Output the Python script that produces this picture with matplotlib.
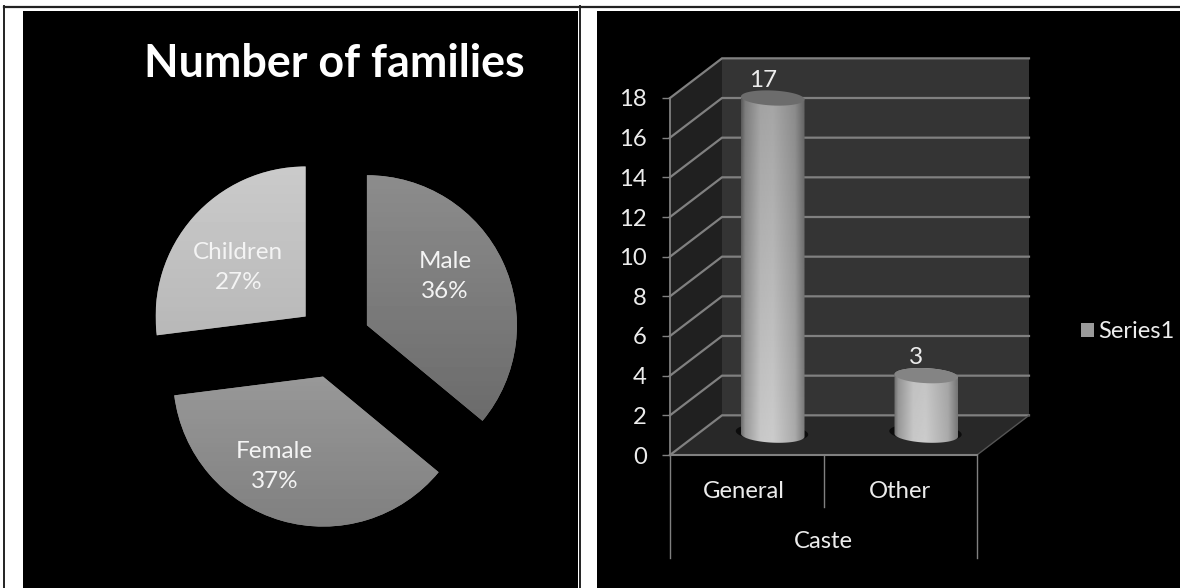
import numpy as np
import matplotlib
matplotlib.use('Agg')
import matplotlib.pyplot as plt
from matplotlib.patches import Patch, Polygon
from matplotlib.path import Path
from matplotlib.patches import PathPatch
from matplotlib.transforms import ScaledTranslation

plt.rcParams['font.family'] = ['Lato', 'DejaVu Sans']

# data
pie_labels = ['Male', 'Female', 'Children']
pie_values = [36, 37, 27]
pie_top = [140, 176, 202]       # gris em cima/embaixo de cada fatia
pie_bottom = [100, 128, 170]

castes = ['General', 'Other']
caste_values = [17, 3]
group_label = 'Caste'
series_name = 'Series1'
y_ticks = [0, 2, 4, 6, 8, 10, 12, 14, 16, 18]

W = 1180
H = 588
TXT = '#ececec'
LINE = '#808080'


def ax_px(fig, x0, y0, x1, y1):
    return fig.add_axes([x0 / W, 1 - y1 / H, (x1 - x0) / W, (y1 - y0) / H])


fig = plt.figure(figsize=(W / 100, H / 100), dpi=100, facecolor='white')

# fundo da pagina, coordenadas em pixel
bg = ax_px(fig, 0, 0, W, H)
bg.set_xlim(0, W)
bg.set_ylim(H, 0)
bg.axis('off')
bg.fill_between([23, 578], 11, H, color='black', lw=0)
bg.fill_between([597, W], 11, H, color='black', lw=0)
bg.plot([4, W], [6.5, 6.5], color='#222222', lw=1.6)
bg.plot([4, 4], [6, H], color='#222222', lw=1.4)
bg.plot([580, 580], [6, H], color='#222222', lw=1.4)
bg.text(334, 64, 'Number of families', color='white', fontsize=32.3,
        fontweight='bold', ha='center', va='center')

# pizza
R = 150
cx, cy = 333.4, 341
half = 200
axp = ax_px(fig, cx - half, cy - half, cx + half, cy + half)
wedges, _ = axp.pie(pie_values, explode=[0.247] * 3, startangle=90, counterclock=False,
                    colors=['#888888'] * 3, radius=1)
axp.set_xlim(-half / R, half / R)
axp.set_ylim(-half / R, half / R)
axp.set_aspect('equal')
for w, t, b in zip(wedges, pie_top, pie_bottom):
    yc = w.center[1]
    img = axp.imshow(np.linspace(t, b, 64).reshape(-1, 1), cmap='gray', vmin=0, vmax=255,
                     extent=[w.center[0] - 1, w.center[0] + 1, yc - 1, yc + 1],
                     aspect='auto', origin='upper', zorder=2)
    img.set_clip_path(w)
axp.set_xlim(-half / R, half / R)
axp.set_ylim(-half / R, half / R)
text_px = [(445, 276.5), (274.4, 466.5), (238.4, 267.5)]
for name, v, (tx, ty) in zip(pie_labels, pie_values, text_px):
    axp.text((tx - cx) / R, (cy - ty) / R, '%s\n%d%%' % (name, round(100 * v / sum(pie_values))),
             color='#f4f4f4', fontsize=17.5, ha='center', va='center', linespacing=1.55, zorder=3)

# colunas 3d falsas: eixo vai de x=670 a 977 na frente, 0 em y=455 e 18 em y=98
ax = ax_px(fig, 670, 98, 977, 455)
ax.set_xlim(0, len(castes))
ax.set_ylim(0, 18)
ax.patch.set_alpha(0)
for s in ['top', 'right']:
    ax.spines[s].set_visible(False)
ax.spines['left'].set_color(LINE)
ax.spines['bottom'].set_color(LINE)
ax.spines['left'].set_linewidth(1.3)
ax.spines['bottom'].set_linewidth(1.5)

dx = 52 / 153.5   # profundidade em unidades de categoria
dy = 2.0          # profundidade em unidades de valor
top = 18

back = Polygon([(dx, dy), (len(castes) + dx, dy), (len(castes) + dx, top + dy), (dx, top + dy)],
               closed=True, fc='#343434', ec='none', clip_on=False, zorder=1)
side = Polygon([(0, 0), (dx, dy), (dx, top + dy), (0, top)],
               closed=True, fc='#202020', ec='none', clip_on=False, zorder=1)
floor = Polygon([(0, 0), (len(castes), 0), (len(castes) + dx, dy), (dx, dy)],
                closed=True, fc='#282828', ec='none', clip_on=False, zorder=1)
ax.add_patch(back)
ax.add_patch(side)
ax.add_patch(floor)
for v in y_ticks:
    ax.plot([0, dx, len(castes) + dx], [v, v + dy, v + dy], color=LINE, lw=1.6,
            clip_on=False, zorder=2, solid_joinstyle='miter')
ax.plot([len(castes), len(castes) + dx], [0, dy], color='#555555', lw=1, clip_on=False, zorder=2)

a = 0.207      # meia largura da coluna
b = 0.378      # meia altura da elipse
tilt = 0.075
t = np.linspace(0, 2 * np.pi, 121)
for i, (c, v) in enumerate(zip(castes, caste_values)):
    xc = i + 0.5 + dx / 2
    y0 = dy / 2
    y1 = y0 + v
    ex = a * np.cos(t)
    ey = b * np.sin(t) + tilt * np.cos(t) * -1
    # sombra
    ax.fill(xc - 0.005 + 1.14 * ex, y0 + 0.12 + 1.2 * ey, color='#0c0c0c', lw=0, clip_on=False, zorder=3)
    # corpo: parte de baixo da elipse de base + lados
    low = t[60:121]
    bx = xc + a * np.cos(low)
    by = y0 + b * np.sin(low) - tilt * np.cos(low)
    verts = list(zip(bx, by)) + [(xc + a, y1 - tilt)]
    up = t[0:61]
    verts += list(zip(xc + a * np.cos(up), y1 + b * np.sin(up) - tilt * np.cos(up)))
    verts += [verts[0]]
    body = PathPatch(Path(verts), fc='none', ec='none', clip_on=False, zorder=3)
    ax.add_patch(body)
    # degrade horizontal
    prof = np.interp(np.linspace(0, 1, 64), [0, 0.06, 0.3, 0.5, 0.85, 1], [0.55, 0.75, 0.98, 1, 0.84, 0.6])
    vert = np.interp(np.linspace(y1 + b, y0 - b, 64), [0, 18], [205, 165])
    img = ax.imshow(np.outer(vert, prof), cmap='gray', vmin=0, vmax=255,
                    extent=[xc - a, xc + a, y0 - b - tilt, y1 + b + tilt],
                    aspect='auto', origin='upper', zorder=4, clip_on=True)
    img.set_clip_path(body)
    ax.fill(xc + ex, y1 + ey, color='#6c6c6c' if v > 5 else '#848484', lw=0, clip_on=False, zorder=5)
    ax.text(xc - 0.065, y1 + 0.9, str(v), color=TXT, fontsize=17.5, ha='center', va='center', zorder=6)

ax.set_xlim(0, len(castes))
ax.set_ylim(0, 18)
ax.set_yticks(y_ticks)
ax.tick_params(axis='y', colors=TXT, labelsize=17.2, length=5.8, width=1, color=LINE, pad=11)
ax.set_xticks([i + 0.5 for i in range(len(castes))])
ax.set_xticklabels(castes, color=TXT, fontsize=17.2)
ax.tick_params(axis='x', length=0, pad=18.6)
# General fica um pouco a esquerda no original
lab = ax.get_xticklabels()[0]
lab.set_transform(lab.get_transform() + ScaledTranslation(-2 / 72, 0, fig.dpi_scale_trans))

# separadores e grupo embaixo
sep = 103 / (455 - 98) * 18
ax.plot([0, 0], [0, -sep], color=LINE, lw=1, clip_on=False)
ax.plot([2, 2], [0, -sep], color=LINE, lw=1, clip_on=False)
ax.plot([1, 1], [0, -sep / 2], color=LINE, lw=1, clip_on=False)
ax.text(1, -4.34, group_label, color=TXT, fontsize=17.2, ha='center', va='center')

fig.legend(handles=[Patch(fc='#9a9a9a', ec='none', label=series_name)], loc='center left',
           bbox_to_anchor=(1081 / W, 1 - 331.5 / H), frameon=False, labelcolor=TXT, fontsize=17,
           handlelength=0.55, handleheight=0.55, handletextpad=0.2, borderpad=0, borderaxespad=0)

fig.savefig('out.png', dpi=100, facecolor='white')
